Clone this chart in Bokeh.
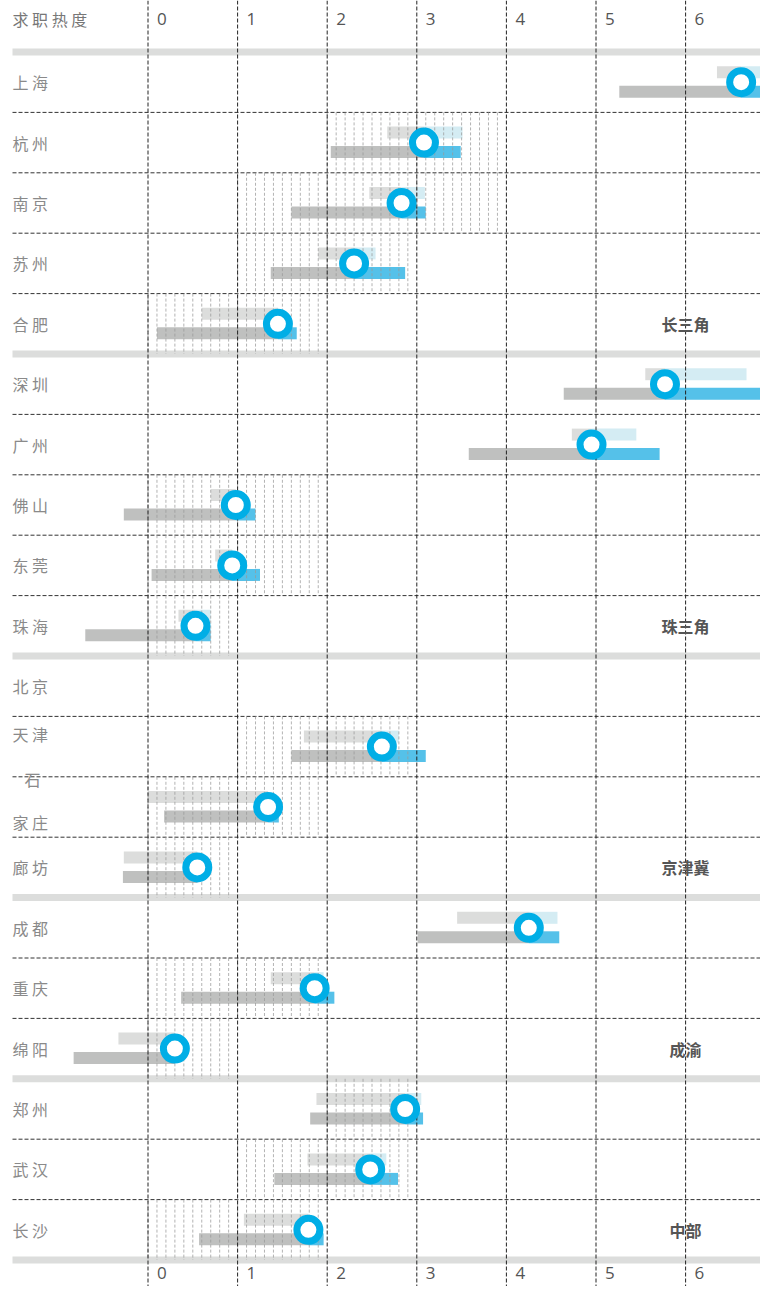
import numpy as np
from bokeh.plotting import figure
from bokeh.models import Range1d
from bokeh.core.properties import value
from bokeh.embed import file_html
from bokeh.resources import INLINE

# ---------------- data ----------------
cities = ["上海", "杭州", "南京", "苏州", "合肥",
          "深圳", "广州", "佛山", "东莞", "珠海",
          "北京", "天津", "石家庄", "廊坊",
          "成都", "重庆", "绵阳",
          "郑州", "武汉", "长沙"]
groups = ["长三角", "珠三角", "京津冀", "成渝", "中部"]
group_sizes = [5, 5, 4, 3, 3]

upper_start = [6.35, 2.67, 2.47, 1.90, 0.60, 5.55, 4.73, 0.70, 0.75, 0.34, None, 1.74, 0.00, -0.27, 3.45, 1.37, -0.33, 1.88, 1.78, 1.07]
upper_end   = [7.00, 3.51, 3.09, 2.54, 1.45, 6.68, 5.45, 0.98, 0.94, 0.70, None, 2.80, 1.34, 0.55, 4.57, 1.96, 0.30, 3.05, 2.66, 1.79]
lower_start = [5.26, 2.04, 1.60, 1.37, 0.10, 4.64, 3.58, -0.27, 0.04, -0.70, None, 1.60, 0.18, -0.28, 3.01, 0.37, -0.83, 1.81, 1.41, 0.57]
lower_end   = [7.00, 3.49, 3.10, 2.87, 1.66, 7.00, 5.71, 1.20, 1.25, 0.70, None, 3.10, 1.46, 0.55, 4.59, 2.08, 0.30, 3.07, 2.79, 1.96]
heat        = [6.62, 3.08, 2.83, 2.30, 1.45, 5.77, 4.95, 0.98, 0.94, 0.53, None, 2.61, 1.34, 0.55, 4.25, 1.86, 0.30, 2.87, 2.48, 1.79]
hatch_start = [None, 2.0, 1.0, 1.0, 0.0, None, None, 0.0, 0.0, 0.0, None, 1.0, 0.0, 0.0, None, 0.0, 0.0, 2.0, 1.0, 0.0]
hatch_end   = [None, 3.9, 3.9, 2.9, 1.9, None, None, 1.9, 1.9, 0.9, None, 2.9, 1.9, 0.9, None, 1.9, 0.9, 2.9, 2.9, 1.9]
ticks = [0, 1, 2, 3, 4, 5, 6]
tick_labels = ["0", "1", "2", "3", "4", "5", "6"]
title = "求职热度"

# ---------------- geometry ----------------
W, H = 760, 1286
PX0, XS = 147.5, 89.6      # canvas px of x=0, px per unit
Y0, YS = 81.7, 60.4        # canvas px of row 0 centre, px per row
x_start = -PX0 / XS
x_end = x_start + W / XS
y_top = -Y0 / YS
y_bot = y_top + H / YS
x_left = (12 - PX0) / XS

def row_of(py):
    return (py - Y0) / YS

p = figure(width=W, height=H, x_range=Range1d(x_start, x_end), y_range=Range1d(y_bot, y_top),
           output_backend="svg", toolbar_location=None, min_border=0,
           x_axis_location=None, y_axis_location=None)
p.grid.visible = False
p.outline_line_color = None

CJK = value("Noto Sans CJK SC")
NUM = value("Open Sans")

n = len(cities)
rows = list(range(n))

# group separator bands
bounds = [-0.5]
for s in group_sizes:
    bounds.append(bounds[-1] + s)
p.segment(x0=[x_left] * len(bounds), x1=[7.2] * len(bounds), y0=bounds, y1=bounds,
          line_color="#dcdddc", line_width=7)

# row dashed lines
inner = [r + 0.5 for r in rows[:-1] if (r + 0.5) not in bounds]
p.segment(x0=[x_left] * len(inner), x1=[7.2] * len(inner), y0=inner, y1=inner,
          line_color="#333333", line_width=1, line_dash="4 2")

# bars
bh = 12 / YS
ug = dict(y=[], l=[], r=[]); ub = dict(y=[], l=[], r=[])
lg = dict(y=[], l=[], r=[]); lb = dict(y=[], l=[], r=[])
for i in rows:
    m = heat[i]
    if m is None:
        continue
    yu = i - 10 / YS
    yl = i + 9.5 / YS
    ug["y"].append(yu); ug["l"].append(upper_start[i]); ug["r"].append(min(upper_end[i], m))
    if upper_end[i] > m:
        ub["y"].append(yu); ub["l"].append(m); ub["r"].append(upper_end[i])
    lg["y"].append(yl); lg["l"].append(lower_start[i]); lg["r"].append(min(lower_end[i], m))
    if lower_end[i] > m:
        lb["y"].append(yl); lb["l"].append(m); lb["r"].append(lower_end[i])

p.hbar(y=ug["y"], left=ug["l"], right=ug["r"], height=bh, fill_color="#dcdddc", line_color=None)
p.hbar(y=ub["y"], left=ub["l"], right=ub["r"], height=bh, fill_color="#d4ecf3", line_color=None)
p.hbar(y=lg["y"], left=lg["l"], right=lg["r"], height=bh, fill_color="#bfc0bf", line_color=None)
p.hbar(y=lb["y"], left=lb["l"], right=lb["r"], height=bh, fill_color="#55c1e9", line_color=None)

# hatch lines
hx, hy0, hy1 = [], [], []
for i in rows:
    if hatch_start[i] is None:
        continue
    xs = np.round(np.arange(hatch_start[i], hatch_end[i] + 1e-6, 0.1), 2)
    hx += list(xs)
    hy0 += [i - 0.5] * len(xs)
    hy1 += [i + 0.5] * len(xs)
p.segment(x0=hx, x1=hx, y0=hy0, y1=hy1, line_color="#999999", line_alpha=0.75,
          line_width=1, line_dash="3 2")

# vertical grid lines
gx = ticks + [7]
p.segment(x0=gx, x1=gx, y0=[y_top] * len(gx), y1=[y_bot] * len(gx),
          line_color="#222222", line_width=1, line_dash="4 2")

# circles
cx = [heat[i] for i in rows if heat[i] is not None]
cy = [i for i in rows if heat[i] is not None]
p.scatter(x=cx, y=cy, size=23, fill_color="white", line_color="#00aee6", line_width=7)

# tick labels top & bottom
p.text(x=ticks, y=[row_of(18)] * len(ticks), text=tick_labels, x_offset=9,
       text_align="left", text_baseline="middle", text_font=NUM,
       text_font_size="17px", text_color="#555555")
p.text(x=ticks, y=[row_of(1272)] * len(ticks), text=tick_labels, x_offset=9,
       text_align="left", text_baseline="middle", text_font=NUM,
       text_font_size="17px", text_color="#555555")

# title
p.text(x=[x_left], y=[row_of(18)], text=["  ".join(title)], text_align="left",
       text_baseline="middle", text_font=CJK, text_font_size="16px", text_color="#777777")

# city labels
lx, ly, lt = [], [], []
for i, c in enumerate(cities):
    if c == "石家庄":
        lx += [x_left + 12 / XS, x_left]
        ly += [row_of(778), row_of(821)]
        lt += [c[0], "  ".join(c[1:])]
    elif c == "天津":
        lx.append(x_left); ly.append(row_of(733)); lt.append("  ".join(c))
    else:
        lx.append(x_left); ly.append(i); lt.append("  ".join(c))
p.text(x=lx, y=ly, text=lt, text_align="left", text_baseline="middle", text_font=CJK,
       text_font_size="16px", text_color="#8a8a8a")

# group labels
last_rows = [int(b - 0.5) for b in bounds[1:]]
p.text(x=[6.0] * len(groups), y=last_rows, text=groups, text_align="center",
       text_baseline="middle", text_font=CJK, text_font_size="16px",
       text_font_style="bold", text_color="#555555")

open("out.html", "w").write(file_html(p, INLINE))
